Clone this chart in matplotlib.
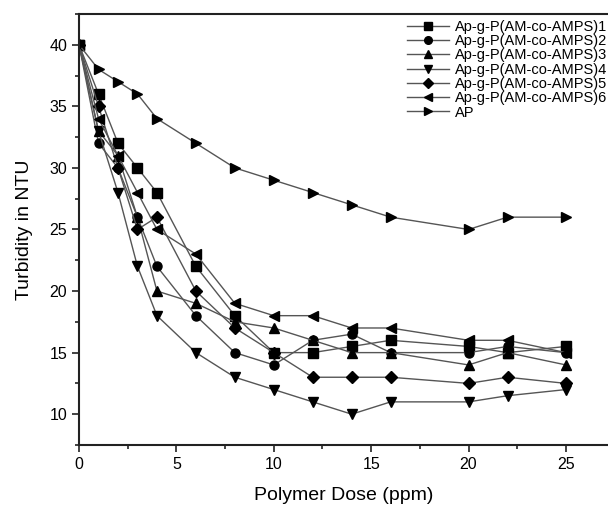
import matplotlib
matplotlib.use("Agg")
import matplotlib.pyplot as plt
from matplotlib.ticker import MultipleLocator

plt.rcParams['font.family'] = ['Liberation Sans', 'DejaVu Sans']

# polymer dose (ppm)
dose = [0, 1, 2, 3, 4, 6, 8, 10, 12, 14, 16, 20, 22, 25]

# turbidity (NTU)
s1 = [40, 36, 32, 30, 28, 22, 18, 15, 15, 15.5, 16, 15.5, 15, 15.5]
s2 = [40, 32, 30, 26, 22, 18, 15, 14, 16, 16.5, 15, 15, 15.5, 15]
s3 = [40, 33, 31, 26, 20, 19, 17.5, 17, 16, 15, 15, 14, 15, 14]
s4 = [40, 33, 28, 22, 18, 15, 13, 12, 11, 10, 11, 11, 11.5, 12]
s5 = [40, 35, 30, 25, 26, 20, 17, 15, 13, 13, 13, 12.5, 13, 12.5]
s6 = [40, 34, 31, 28, 25, 23, 19, 18, 18, 17, 17, 16, 16, 15]
ap = [40, 38, 37, 36, 34, 32, 30, 29, 28, 27, 26, 25, 26, 26]

labels = ["Ap-g-P(AM-co-AMPS)1", "Ap-g-P(AM-co-AMPS)2", "Ap-g-P(AM-co-AMPS)3",
          "Ap-g-P(AM-co-AMPS)4", "Ap-g-P(AM-co-AMPS)5", "Ap-g-P(AM-co-AMPS)6", "AP"]
markers = ["s", "o", "^", "v", "D", "<", ">"]
sizes = [6.5, 6.5, 7, 7, 6, 7, 7]

fig = plt.figure(figsize=(6.08, 5.13), dpi=100)
ax = fig.add_axes([0.130, 0.1326, 0.870, 0.8402])

for ys, lab, m, ms in zip([s1, s2, s3, s4, s5, s6, ap], labels, markers, sizes):
    ax.plot(dose, ys, color="#555555", lw=1.0, marker=m, ms=ms,
            mfc="black", mec="black", label=lab)

ax.set_xlim(0, 27.16)
ax.set_ylim(7.5, 42.5)
ax.xaxis.set_major_locator(MultipleLocator(5))
ax.xaxis.set_minor_locator(MultipleLocator(2.5))
ax.yaxis.set_major_locator(MultipleLocator(5))
ax.yaxis.set_minor_locator(MultipleLocator(2.5))
ax.set_yticks([10, 15, 20, 25, 30, 35, 40])
ax.tick_params(which="both", direction="out", labelsize=11.5, width=1.2, color="#222222")
ax.tick_params(which="major", length=5)
ax.tick_params(which="minor", length=3)
ax.tick_params(top=False, right=False)
ax.spines["right"].set_visible(False)
for sp in ["left", "bottom", "top"]:
    ax.spines[sp].set_linewidth(1.5)
    ax.spines[sp].set_color("#222222")

ax.set_xlabel("Polymer Dose (ppm)", fontsize=14, labelpad=11)
ax.set_ylabel("Turbidity in NTU", fontsize=14, labelpad=12)

leg = ax.legend(loc="upper right", bbox_to_anchor=(1.01, 1.0), frameon=False,
                fontsize=10.5, handlelength=2.9, labelspacing=0.02,
                handletextpad=0.4, borderaxespad=0.0)
for h in leg.legend_handles:
    h.set_markersize(5.5)

fig.savefig("out.png", dpi=100)
